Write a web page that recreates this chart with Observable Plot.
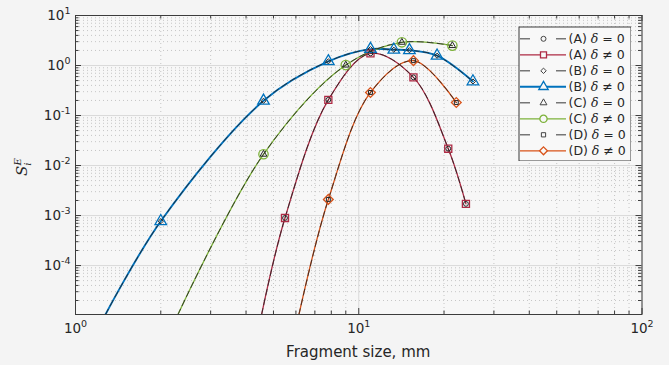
<!DOCTYPE html>
<html><head><meta charset="utf-8">
<script src="https://cdn.jsdelivr.net/npm/d3@7"></script>
<script src="https://cdn.jsdelivr.net/npm/@observablehq/plot@0.6"></script>
<style>
html,body{margin:0;padding:0;background:#f4f4f4;}
#wrap{position:relative;width:669px;height:365px;overflow:hidden;background:#f4f4f4;}
#legend{position:absolute;left:518px;top:26px;}
#wrap svg{display:block;}
</style></head><body><div id="wrap"><div id="main"></div><div id="legend"></div></div>
<script>
// ---------------- data ----------------
const seriesKeys = ["A", "B", "C", "D"];
// δ ≠ 0 marker positions (the δ = 0 curves coincide with them)
const xA = [5.49, 7.81, 11.0, 15.6, 20.7, 23.9];
const yA = [8.95e-4, 0.206, 1.75, 0.58, 0.0217, 0.00171];
const xB = [2.0, 4.61, 7.81, 11.0, 13.3, 15.1, 18.9, 25.3];
const yB = [7.7e-4, 0.197, 1.21, 2.13, 2.07, 2.02, 1.57, 0.48];
const xC = [4.61, 9.0, 14.2, 21.4];
const yC = [0.0168, 1.02, 2.91, 2.5];
const xD = [7.81, 11.0, 15.6, 22.1];
const yD = [0.0021, 0.289, 1.25, 0.182];
// fragment size where each curve leaves the bottom edge of the axes
const curveEntryX = [4.54, 1.276, 2.30, 6.15];

const xTicks = [1, 10, 100];
const xTickLabels = ["10^0", "10^1", "10^2"];
const yTicks = [1e-4, 1e-3, 1e-2, 1e-1, 1, 10];
const yTickLabels = ["10^-4", "10^-3", "10^-2", "10^-1", "10^0", "10^1"];
const yMin = 1.05e-5, yMax = 10;

const colors = {A: "#AE2B45", B: "#0072BD", C: "#7DB23A", D: "#D95319"};
const openSymbol = {A: "square", B: "triangle", C: "circle", D: "diamond2"};
const openR = {A: 4.0, B: 4.3, C: 4.7, D: 4.4};
const blackSymbol = {A: "circle", B: "diamond2", C: "triangle", D: "square"};
const blackR = {A: 2.4, B: 2.3, C: 2.5, D: 2.2};
const lineW = {A: 1.3, B: 1.9, C: 1.3, D: 1.3};

const xs = {A: xA, B: xB, C: xC, D: xD};
const ys = {A: yA, B: yB, C: yC, D: yD};

const markers = {}, lines = {};
seriesKeys.forEach((k, i) => {
  markers[k] = xs[k].map((x, j) => ({x, y: ys[k][j]}));
  lines[k] = [{x: curveEntryX[i], y: yMin}, ...markers[k]];
});

// tick positions for minor grid/ticks
const xMinor = [];
for (const e of [1, 10]) for (let m = 2; m <= 9; m++) xMinor.push(m * e);
const yMinor = [];
for (const e of [1e-5, 1e-4, 1e-3, 1e-2, 1e-1, 1]) for (let m = 2; m <= 9; m++) { const v = m * e; if (v > yMin && v < yMax) yMinor.push(v); }

const mL = 75, mR = 27.5, mT = 15, mB = 51;
const W = 669, H = 365;
const FW = W - mL - mR, FH = H - mT - mB;
const axisColor = "#3c3c3c";

const marks = [
  Plot.frame({fill: "#f7f7f7"}),
  Plot.ruleX(xMinor, {stroke: "#b9b9b9", strokeWidth: 0.8, strokeDasharray: "1,3"}),
  Plot.ruleY(yMinor, {stroke: "#b9b9b9", strokeWidth: 0.8, strokeDasharray: "1,3"}),
  Plot.ruleX(xTicks, {stroke: "#dadada", strokeWidth: 1}),
  Plot.ruleY(yTicks, {stroke: "#dadada", strokeWidth: 1})
];
for (const k of seriesKeys) {
  marks.push(Plot.line(lines[k], {x: "x", y: "y", stroke: colors[k], strokeWidth: lineW[k], curve: "catmull-rom", clip: true}));
}
for (const k of seriesKeys) {
  marks.push(Plot.line(lines[k], {x: "x", y: "y", stroke: "#262626", strokeOpacity: 0.85, strokeWidth: 1, strokeDasharray: "6,4", curve: "catmull-rom", clip: true}));
}
for (const k of seriesKeys) {
  marks.push(Plot.dot(markers[k], {x: "x", y: "y", symbol: () => openSymbol[k], r: openR[k], stroke: colors[k], strokeWidth: 1.3, fill: "none"}));
}
for (const k of seriesKeys) {
  marks.push(Plot.dot(markers[k], {x: "x", y: "y", symbol: () => blackSymbol[k], r: blackR[k], stroke: "#262626", strokeWidth: 1, fill: "none"}));
}
// inward ticks on all four sides
marks.push(
  Plot.ruleX(xTicks, {stroke: axisColor, insetTop: FH - 6}),
  Plot.ruleX(xTicks, {stroke: axisColor, insetBottom: FH - 6}),
  Plot.ruleX(xMinor, {stroke: axisColor, insetTop: FH - 3.5}),
  Plot.ruleX(xMinor, {stroke: axisColor, insetBottom: FH - 3.5}),
  Plot.ruleY(yTicks, {stroke: axisColor, insetRight: FW - 6}),
  Plot.ruleY(yTicks, {stroke: axisColor, insetLeft: FW - 6}),
  Plot.ruleY(yMinor, {stroke: axisColor, insetRight: FW - 3.5}),
  Plot.ruleY(yMinor, {stroke: axisColor, insetLeft: FW - 3.5}),
  Plot.axisX(xTicks, {tickSize: 0, tickPadding: 9, fontSize: 13.5, tickFormat: d => xTickLabels[xTicks.indexOf(d)], label: null}),
  Plot.axisY(yTicks, {tickSize: 0, tickPadding: 5, fontSize: 13.5, tickFormat: d => yTickLabels[yTicks.indexOf(d)], label: null}),
  Plot.frame({stroke: axisColor, strokeWidth: 1})
);

const chart = Plot.plot({
  width: W, height: H,
  marginLeft: mL, marginRight: mR, marginTop: mT, marginBottom: mB,
  x: {type: "log", domain: [1, 100]},
  y: {type: "log", domain: [yMin, yMax]},
  style: {fontFamily: "'DejaVu Sans', sans-serif", fontSize: "13.5px", color: "#262626", background: "#f4f4f4"},
  marks
});
document.getElementById("main").appendChild(chart);

// superscript exponents in tick labels
chart.querySelectorAll('g[aria-label="x-axis tick label"] text, g[aria-label="y-axis tick label"] text').forEach(t => {
  const s = t.textContent;
  if (!s.includes("^")) return;
  const [base, exp] = s.split("^");
  t.textContent = "";
  const b = document.createElementNS("http://www.w3.org/2000/svg", "tspan");
  b.textContent = base;
  const e = document.createElementNS("http://www.w3.org/2000/svg", "tspan");
  e.textContent = exp;
  e.setAttribute("font-size", "9.5");
  e.setAttribute("dy", "-6");
  t.appendChild(b); t.appendChild(e);
});

// axis titles
const svg = d3.select(chart);
svg.append("text")
  .attr("x", mL + FW / 2).attr("y", 357)
  .attr("text-anchor", "middle")
  .attr("font-family", "'DejaVu Sans', sans-serif")
  .attr("font-size", 15).attr("fill", "#262626")
  .text("Fragment size, mm");
const yl = svg.append("text")
  .attr("transform", "translate(27,167) rotate(-90)")
  .attr("text-anchor", "middle")
  .attr("font-family", "'DejaVu Serif', serif")
  .attr("font-style", "italic")
  .attr("font-size", 15).attr("fill", "#262626");
yl.append("tspan").text("S");
yl.append("tspan").attr("font-size", 10).attr("dy", 4).text("i");
yl.append("tspan").attr("font-size", 10).attr("dy", -10).attr("dx", -3).text("E");

// ---------------- legend ----------------
const LW = 113, LH = 135;
const rowY0 = 12.3, rowStep = 16.0;
const legendRows = [];
seriesKeys.forEach((k, i) => {
  legendRows.push({k, zero: true, y: rowY0 + rowStep * (2 * i), label: `(${k}) δ = 0`});
  legendRows.push({k, zero: false, y: rowY0 + rowStep * (2 * i + 1), label: `(${k}) δ ≠ 0`});
});
const solidRows = legendRows.filter(d => !d.zero);
const dashSegs = legendRows.filter(d => d.zero).flatMap(d => [{y: d.y, x1: 2, x2: 12}, {y: d.y, x1: 38, x2: 48}]);

const legend = Plot.plot({
  width: LW, height: LH, margin: 0, axis: null,
  x: {type: "identity"}, y: {type: "identity"},
  style: {fontFamily: "'DejaVu Sans', sans-serif", fontSize: "12.5px", color: "#262626", background: "transparent"},
  marks: [
    Plot.frame({fill: "#f8f8f8", stroke: "#3a3a3a", inset: 0.5}),
    Plot.ruleY(solidRows, {y: "y", x1: () => 2, x2: () => 48, stroke: d => colors[d.k], strokeWidth: d => lineW[d.k]}),
    Plot.ruleY(dashSegs, {y: "y", x1: "x1", x2: "x2", stroke: "#555", strokeWidth: 1.2}),
    Plot.dot(solidRows, {x: () => 25, y: "y", symbol: d => openSymbol[d.k], r: d => openR[d.k] + 0.4, stroke: d => colors[d.k], strokeWidth: 1.3, fill: "#f8f8f8"}),
    Plot.dot(legendRows.filter(d => d.zero), {x: () => 25, y: "y", symbol: d => blackSymbol[d.k], r: d => blackR[d.k], stroke: "#444", strokeWidth: 1, fill: "none"}),
    Plot.text(legendRows, {x: () => 50, y: "y", text: "label", textAnchor: "start", fill: "#262626"})
  ]
});
document.getElementById("legend").appendChild(legend);
legend.querySelectorAll('text').forEach(t => {
  const s = t.textContent;
  if (!s.includes("δ")) return;
  const [a, b] = s.split("δ");
  t.textContent = "";
  const t1 = document.createElementNS("http://www.w3.org/2000/svg", "tspan"); t1.textContent = a;
  const t2 = document.createElementNS("http://www.w3.org/2000/svg", "tspan"); t2.textContent = "δ";
  t2.setAttribute("font-family", "'DejaVu Serif', serif"); t2.setAttribute("font-style", "italic");
  const t3 = document.createElementNS("http://www.w3.org/2000/svg", "tspan"); t3.textContent = b;
  t.appendChild(t1); t.appendChild(t2); t.appendChild(t3);
});
</script></body></html>
